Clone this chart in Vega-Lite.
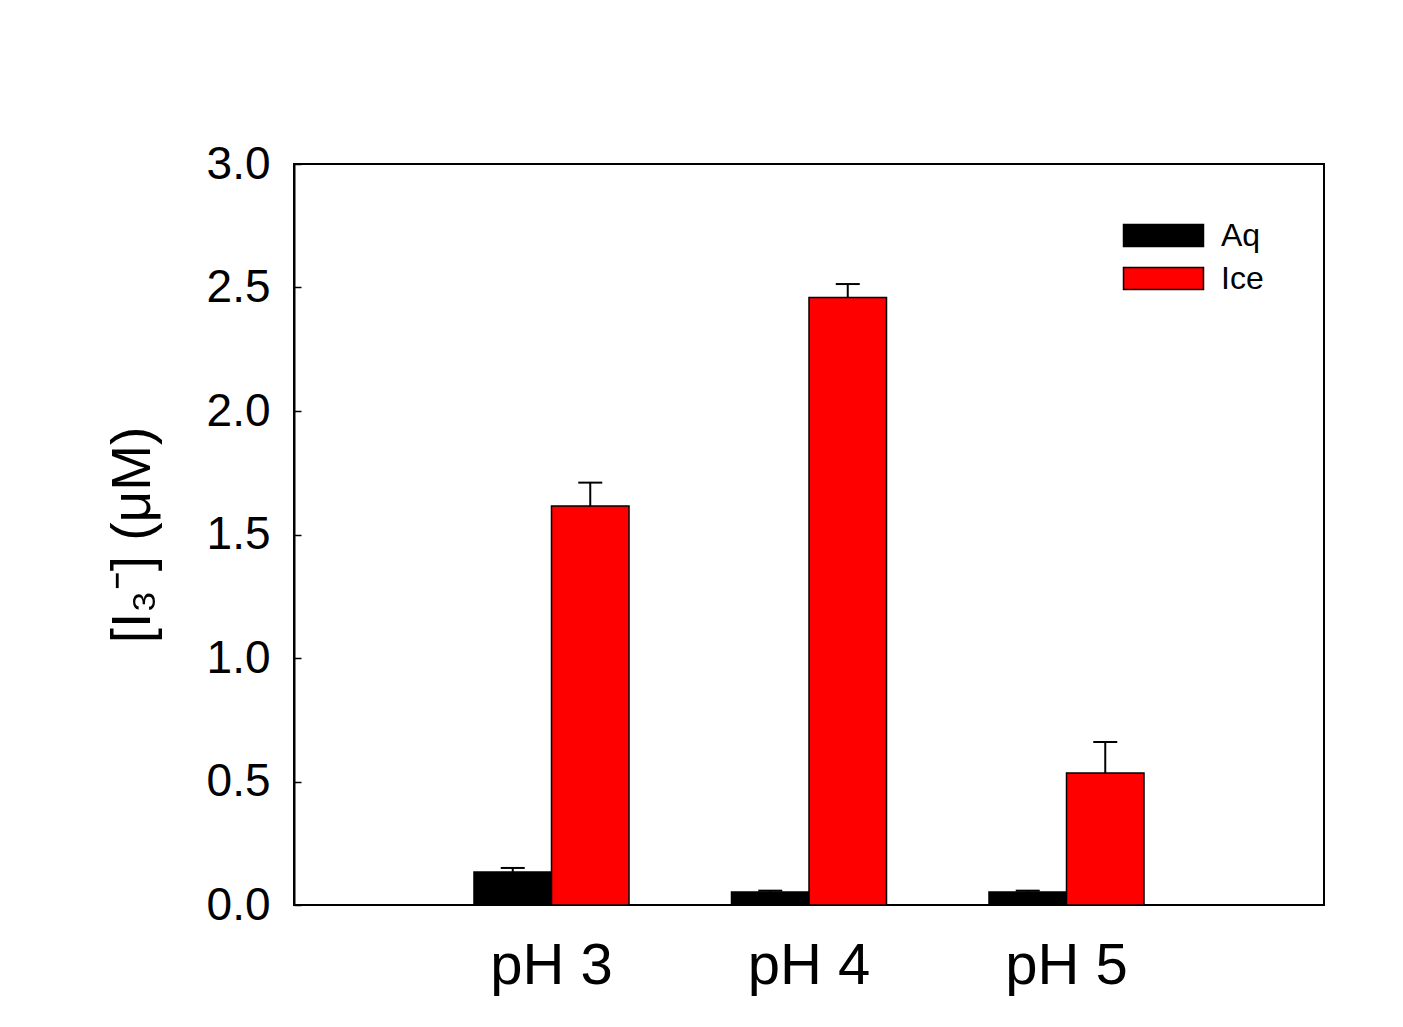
{
  "$schema": "https://vega.github.io/schema/vega-lite/v6.json",
  "autosize": {"type": "none"},
  "padding": {"left": 294, "top": 164, "right": 79, "bottom": 122},
  "width": 1030,
  "height": 741,
  "background": "white",
  "config": {
    "font": "Liberation Sans",
    "view": {"stroke": "black", "strokeWidth": 2},
    "axis": {"grid": false}
  },
  "data": {
    "values": [
      {"ph": "pH 3", "cond": "Aq", "value": 0.134, "upper": 0.15},
      {"ph": "pH 3", "cond": "Ice", "value": 1.615, "upper": 1.71},
      {"ph": "pH 4", "cond": "Aq", "value": 0.053, "upper": 0.058},
      {"ph": "pH 4", "cond": "Ice", "value": 2.46, "upper": 2.514},
      {"ph": "pH 5", "cond": "Aq", "value": 0.053, "upper": 0.058},
      {"ph": "pH 5", "cond": "Ice", "value": 0.534, "upper": 0.66}
    ]
  },
  "encoding": {
    "x": {
      "field": "ph",
      "type": "nominal",
      "scale": {"paddingInner": 0.398, "paddingOuter": 0.699},
      "axis": {"title": null, "labelAngle": 0, "labelFontSize": 58, "labelColor": "black", "ticks": false, "domain": false, "labelPadding": 32}
    },
    "xOffset": {"field": "cond", "type": "nominal", "scale": {"paddingInner": 0, "paddingOuter": 0}}
  },
  "layer": [
    {
      "mark": {"type": "bar", "stroke": "black", "strokeWidth": 1.5},
      "encoding": {
        "y": {
          "field": "value",
          "type": "quantitative",
          "scale": {"domain": [0, 3], "nice": false},
          "axis": {
            "title": "[I₃⁻] (μM)",
            "titleFontSize": 55,
            "titleFontWeight": "normal",
            "titleColor": "black",
            "titlePadding": 45,
            "values": [0, 0.5, 1, 1.5, 2, 2.5, 3],
            "format": ".1f",
            "labelFontSize": 46,
            "labelColor": "black",
            "tickSize": -7,
            "tickColor": "black",
            "tickWidth": 1.5,
            "labelPadding": 31,
            "domainColor": "black",
            "domainWidth": 2
          }
        },
        "color": {
          "field": "cond",
          "type": "nominal",
          "scale": {"domain": ["Aq", "Ice"], "range": ["#000000", "#ff0000"]},
          "legend": {
            "title": null,
            "orient": "none",
            "legendX": 847,
            "legendY": 49,
            "padding": 0,
            "symbolType": "M-1.86,-0.512L1.86,-0.512L1.86,0.512L-1.86,0.512Z",
            "symbolSize": 1849,
            "symbolStrokeColor": "black",
            "symbolStrokeWidth": 1.5,
            "symbolOpacity": 1,
            "labelFontSize": 32,
            "labelColor": "black",
            "labelOffset": 35,
            "rowPadding": 4
          }
        }
      }
    },
    {
      "mark": {"type": "rule", "stroke": "black", "strokeWidth": 2},
      "encoding": {
        "y": {"field": "value", "type": "quantitative"},
        "y2": {"field": "upper"}
      }
    },
    {
      "mark": {"type": "tick", "color": "black", "thickness": 2, "size": 24, "opacity": 1},
      "encoding": {
        "y": {"field": "upper", "type": "quantitative"}
      }
    }
  ]
}
